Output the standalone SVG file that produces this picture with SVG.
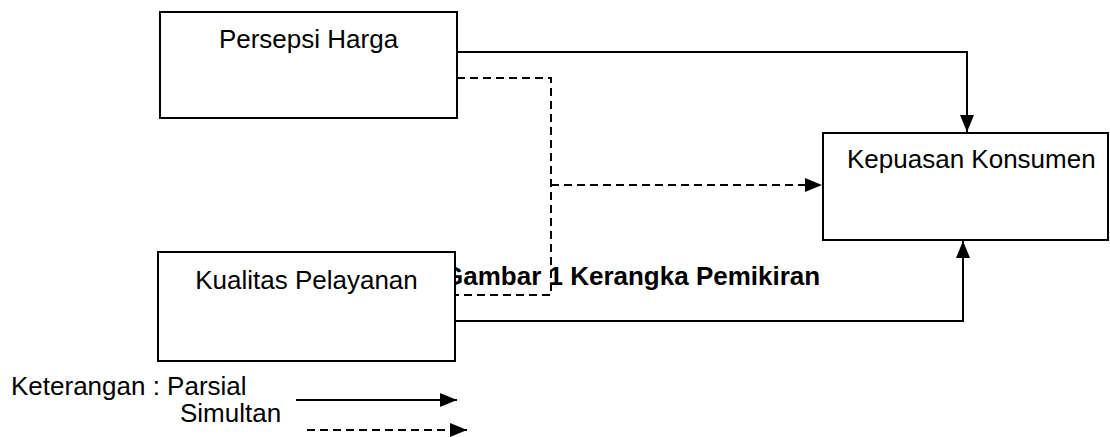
<svg xmlns="http://www.w3.org/2000/svg" width="1110" height="437" viewBox="0 0 1110 437">
<style>
.box{fill:#fff;stroke:#000;stroke-width:2}
.t{font-family:"Liberation Sans",Arial,sans-serif;font-size:26px;fill:#000}
.b{font-weight:bold}
.s{fill:none;stroke:#000;stroke-width:2}
.d{fill:none;stroke:#000;stroke-width:2;stroke-dasharray:8 5}
</style>
<defs>
<marker id="ah" markerUnits="userSpaceOnUse" markerWidth="18" markerHeight="16" refX="17" refY="8" orient="auto">
<path d="M0,1 L17,8 L0,15 Z" fill="#000"/>
</marker>
</defs>
<rect x="0" y="0" width="1110" height="437" fill="#fff"/>
<text class="t b" x="443" y="285">Gambar 1 Kerangka Pemikiran</text>
<g id="connectors">
<path class="s" d="M457,52 H967 V132" marker-end="url(#ah)"/>
<path class="s" d="M455,321 H963 V241" marker-end="url(#ah)"/>
<path class="d" d="M457,78 H551 V295 H455"/>
<path class="d" d="M551,185 H822" marker-end="url(#ah)"/>
</g>
<g id="persepsi-harga">
<rect class="box" x="160" y="12" width="297" height="106"/>
<text class="t" x="308.5" y="48" text-anchor="middle">Persepsi Harga</text>
</g>
<g id="kualitas-pelayanan">
<rect class="box" x="158" y="252" width="297" height="109"/>
<text class="t" x="306.5" y="289" text-anchor="middle">Kualitas Pelayanan</text>
</g>
<g id="kepuasan-konsumen">
<rect class="box" x="823" y="133" width="285" height="107"/>
<text class="t" x="847" y="168">Kepuasan Konsumen</text>
</g>
<g id="legend">
<text class="t" x="11" y="395">Keterangan : Parsial</text>
<text class="t" x="180" y="422">Simultan</text>
<line class="s" x1="296" y1="400" x2="457" y2="400" marker-end="url(#ah)"/>
<line class="d" x1="307" y1="430" x2="467" y2="430" marker-end="url(#ah)"/>
</g>
</svg>
